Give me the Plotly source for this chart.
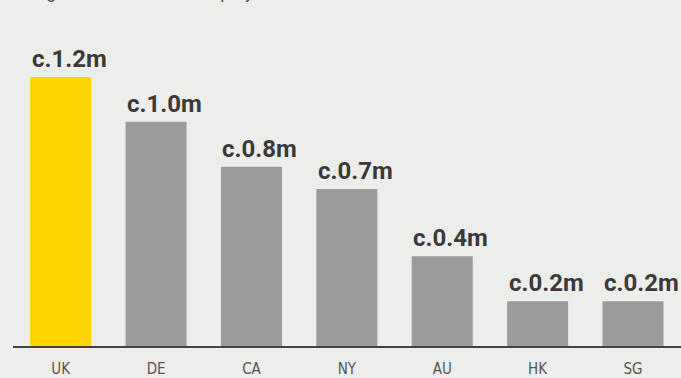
import plotly.graph_objects as go

# Employees in financial services by centre (millions)
centres = ["UK", "DE", "CA", "NY", "AU", "HK", "SG"]
employees_m = [1.2, 1.0, 0.8, 0.7, 0.4, 0.2, 0.2]
value_labels = ["c.1.2m", "c.1.0m", "c.0.8m", "c.0.7m", "c.0.4m", "c.0.2m", "c.0.2m"]
title_text = "Figure 1: Number of employees in financial services"

YELLOW = "#FFD400"
GREY = "#9B9B9B"
BG = "#EDEDEB"

bar_colors = [YELLOW if c == "UK" else GREY for c in centres]

fig = go.Figure(
    go.Bar(
        x=centres,
        y=employees_m,
        marker=dict(color=bar_colors, line=dict(width=0)),
        hoverinfo="skip",
    )
)

# value labels start at each bar's left edge
for c, v, lab in zip(centres, employees_m, value_labels):
    fig.add_annotation(
        x=c, y=v, text=f"<b>{lab}</b>", showarrow=False,
        xref="x", yref="y", xanchor="left", yanchor="bottom",
        xshift=-31, yshift=2,
        font=dict(family="Roboto", size=24, color="#3A3A3A"),
    )

# heading sits above the top edge of the view
fig.add_annotation(
    x=0.025, y=1.053, xref="paper", yref="paper", xanchor="left", yanchor="bottom",
    text=title_text, showarrow=False,
    font=dict(family="Roboto", size=18, color="#555555"),
)

fig.update_layout(
    width=681, height=378,
    margin=dict(l=13, r=0, t=21, b=32),
    paper_bgcolor=BG, plot_bgcolor=BG,
    bargap=0.36,
    showlegend=False,
    xaxis=dict(
        showgrid=False, showline=True, linecolor="#444444", linewidth=1.5,
        ticks="outside", ticklen=8, tickcolor="rgba(0,0,0,0)",
        tickfont=dict(family="DejaVu Sans Condensed", size=15, color="#555555"),
        fixedrange=True,
    ),
    yaxis=dict(
        range=[0, 1.45], visible=False, showgrid=False, zeroline=False,
        fixedrange=True,
    ),
)

fig.write_html("out.html")
